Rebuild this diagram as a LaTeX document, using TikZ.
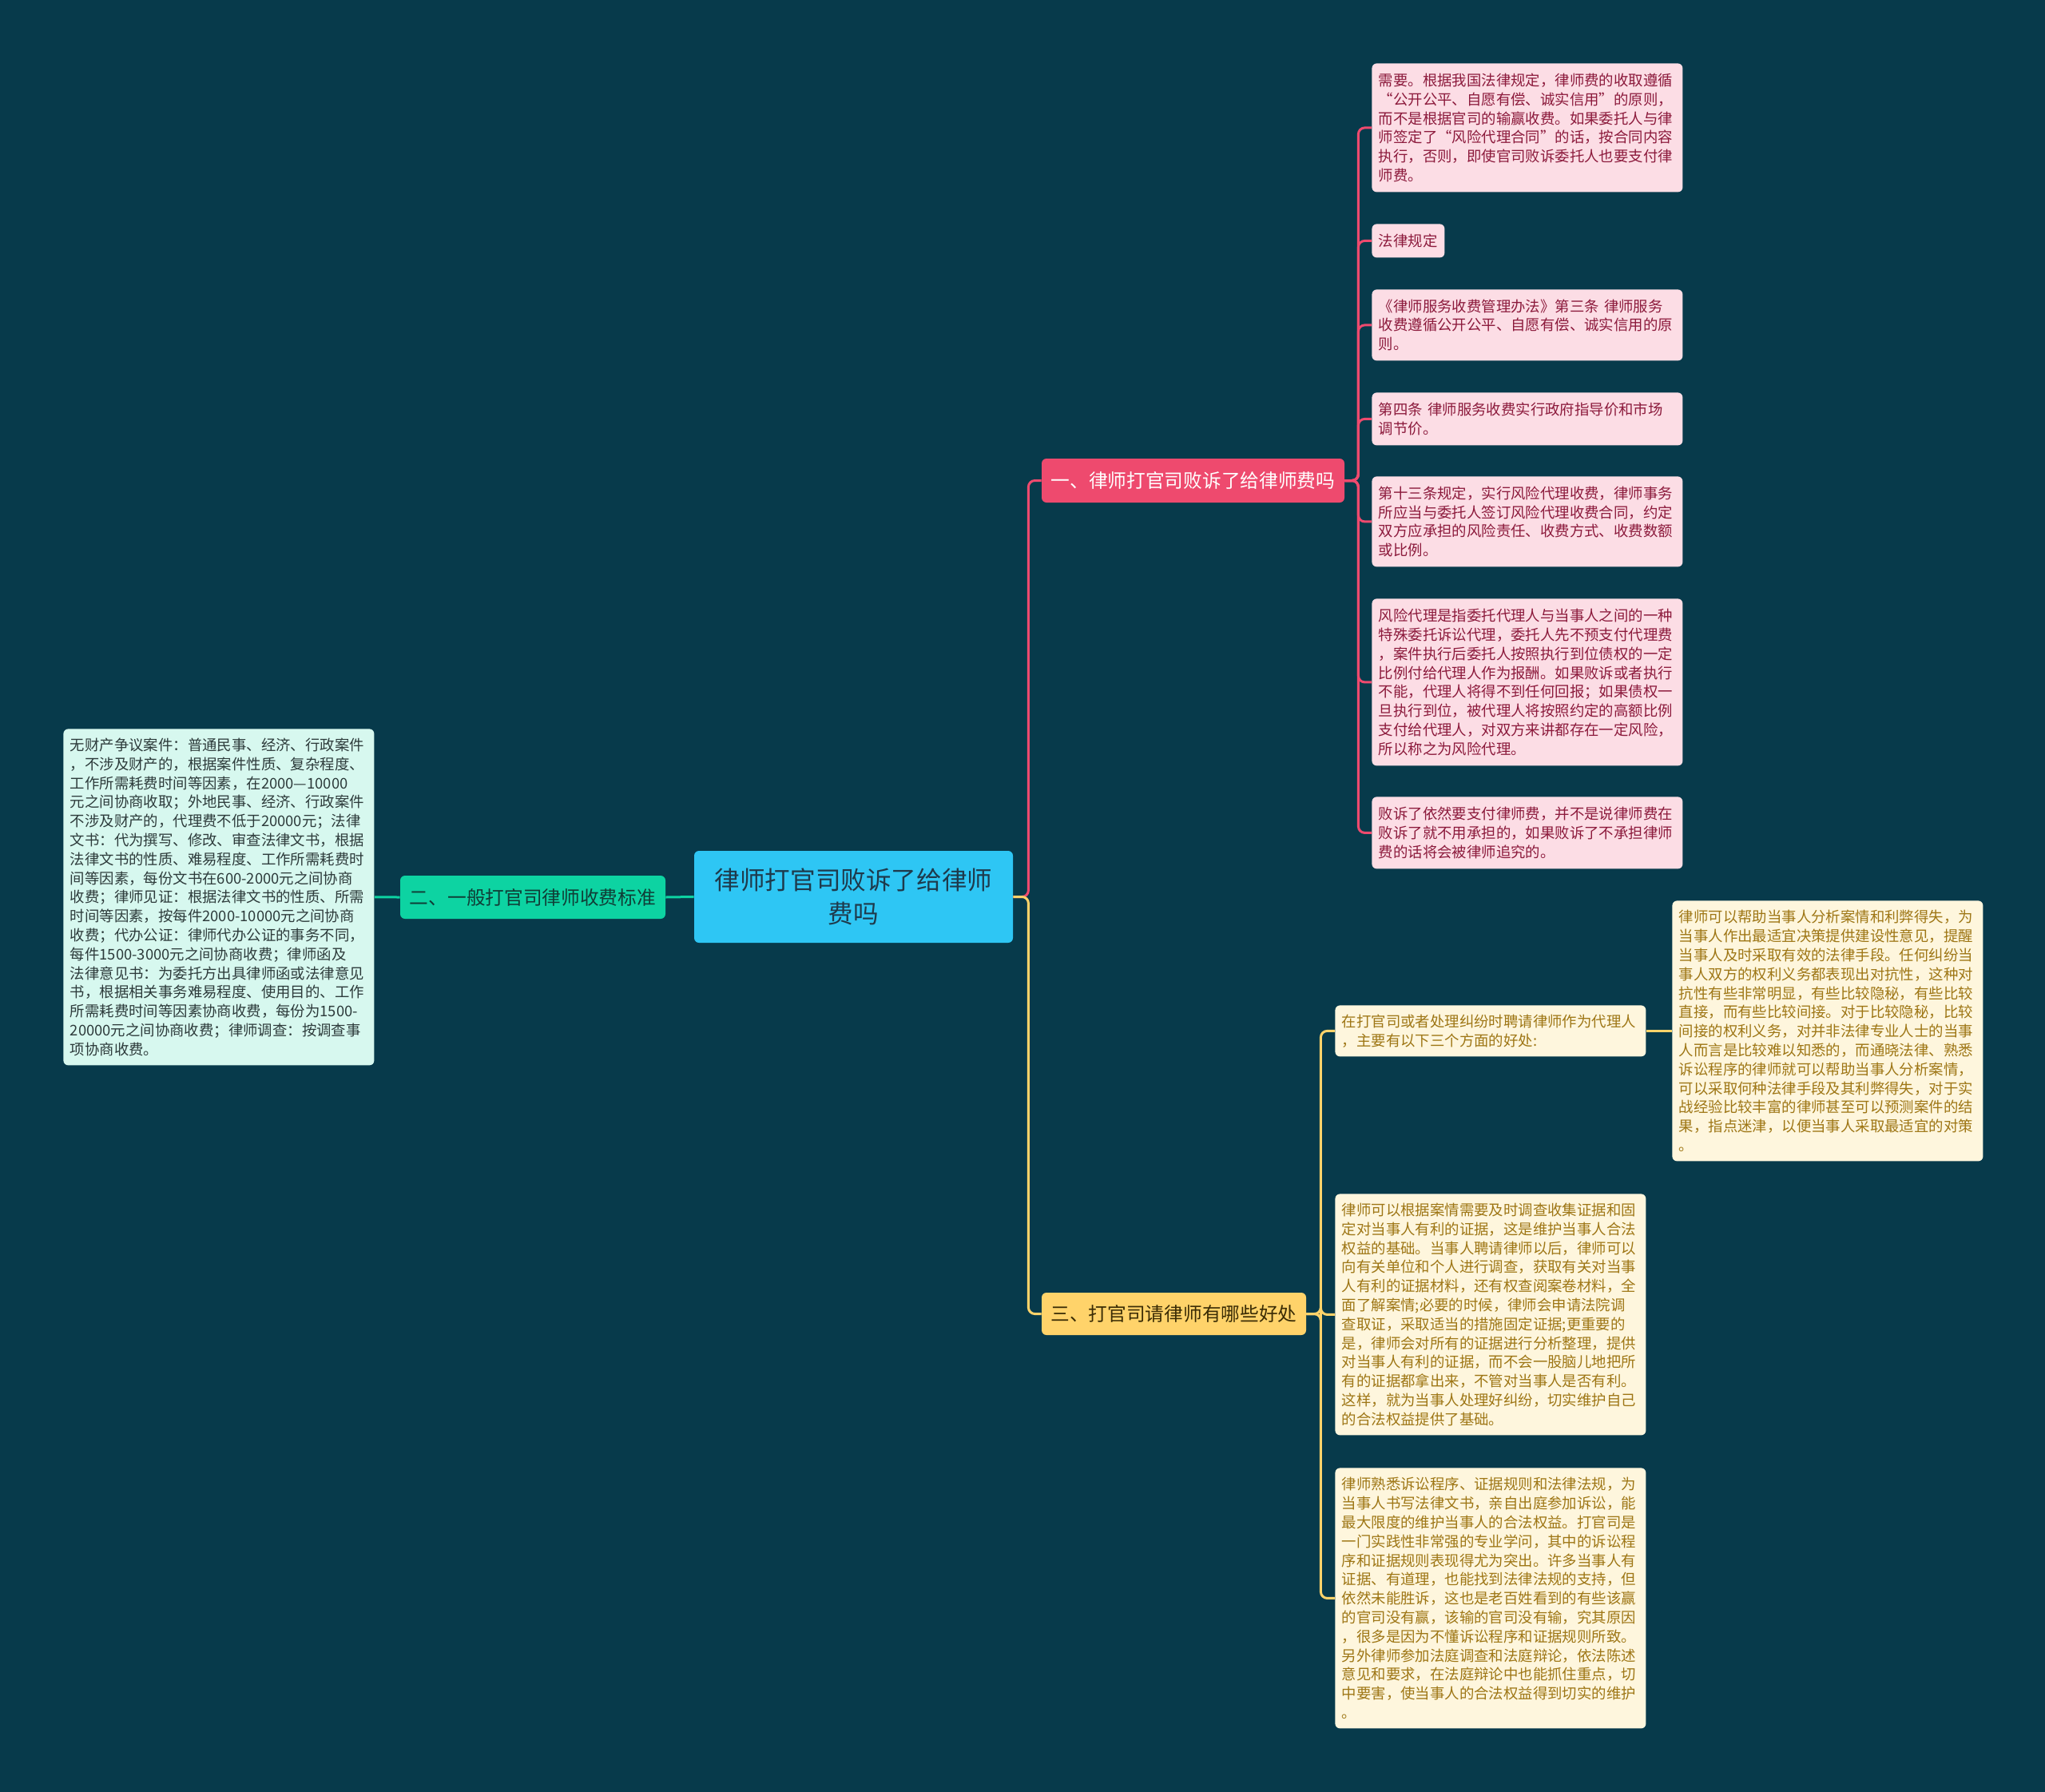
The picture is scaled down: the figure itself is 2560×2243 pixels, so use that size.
\documentclass[tikz,border=0pt]{standalone}
\usepackage{fontspec}
\setmainfont{Noto Sans CJK SC}
\usepackage{tikz}
\usetikzlibrary{positioning}
\definecolor{bgteal}{HTML}{073A4B}
\definecolor{rootblue}{HTML}{2EC6F4}
\definecolor{roottext}{HTML}{1E3A4C}
\definecolor{pinkmain}{HTML}{EE4A6E}
\definecolor{pinksoft}{HTML}{FCDDE5}
\definecolor{pinkink}{HTML}{8C1A3C}
\definecolor{greenmain}{HTML}{0DD3A2}
\definecolor{greensoft}{HTML}{D7F8EF}
\definecolor{greenink}{HTML}{2D3B3B}
\definecolor{greenbrink}{HTML}{103D36}
\definecolor{yellowmain}{HTML}{FFD36A}
\definecolor{yellowsoft}{HTML}{FEF6DD}
\definecolor{yellowink}{HTML}{9E7615}
\definecolor{yellowbrink}{HTML}{3A2C05}
\tikzset{
  rootbox/.style={fill=rootblue, text=roottext, rounded corners=3pt, inner sep=0pt,
    minimum width=199.5pt, minimum height=57.5pt, align=center,
    font=\fontsize{15.8pt}{20.7pt}\selectfont},
  branchbox/.style={rounded corners=3pt, inner sep=0pt, minimum height=27pt,
    font=\fontsize{11.85pt}{14pt}\selectfont},
  leafbox/.style={anchor=north west, rounded corners=3pt, inner xsep=4.25pt, inner ysep=3pt,
    text width=186pt, align=left, font=\fontsize{9.2pt}{11.9pt}\selectfont},
  pinkleaf/.style={leafbox, fill=pinksoft, text=pinkink},
  greenleaf/.style={leafbox, fill=greensoft, text=greenink},
  yellowleaf/.style={leafbox, fill=yellowsoft, text=yellowink},
  linkpink/.style={draw=pinkmain, line width=1.5pt, rounded corners=4pt},
  linkgreen/.style={draw=greenmain, line width=1.5pt},
  linkyellow/.style={draw=yellowmain, line width=1.5pt, rounded corners=4pt}
}

\begin{document}
\begin{tikzpicture}[x=0.5pt, y=-0.5pt]
  \useasboundingbox (0,0) rectangle (2560,2243);
  \fill[bgteal] (0,0) rectangle (2560,2243);

  % centre and main branches
  \node[rootbox] (root) at (1068.5,1122.5) {律师打官司败诉了给律师\\费吗};
  \node[branchbox, fill=pinkmain, text=white, minimum width=189.5pt, minimum height=27.5pt] (brone) at (1493.5,601.5) {一、律师打官司败诉了给律师费吗};
  \node[branchbox, fill=greenmain, text=greenbrink, minimum width=166pt] (brtwo) at (667,1123) {二、一般打官司律师收费标准};
  \node[branchbox, fill=yellowmain, text=yellowbrink, minimum width=165.5pt, minimum height=26.5pt] (brthree) at (1469.5,1644.5) {三、打官司请律师有哪些好处};

  % branch one
  \node[pinkleaf, minimum height=80.5pt] (pone) at (1717,79) {需要。根据我国法律规定，律师费的收取遵循\\“公开公平、自愿有偿、诚实信用”的原则，\\而不是根据官司的输赢收费。如果委托人与律\\师签定了“风险代理合同”的话，按合同内容\\执行，否则，即使官司败诉委托人也要支付律\\师费。};
  \node[pinkleaf, text width=37pt, minimum height=21pt] (ptwo) at (1717,280) {法律规定};
  \node[pinkleaf, minimum height=44.5pt] (pthree) at (1717,362) {《律师服务收费管理办法》第三条 律师服务\\收费遵循公开公平、自愿有偿、诚实信用的原\\则。};
  \node[pinkleaf, minimum height=33pt] (pfour) at (1717,491) {第四条 律师服务收费实行政府指导价和市场\\调节价。};
  \node[pinkleaf, minimum height=56.5pt] (pfive) at (1717,596) {第十三条规定，实行风险代理收费，律师事务\\所应当与委托人签订风险代理收费合同，约定\\双方应承担的风险责任、收费方式、收费数额\\或比例。};
  \node[pinkleaf, minimum height=104.5pt] (psix) at (1717,749) {风险代理是指委托代理人与当事人之间的一种\\特殊委托诉讼代理，委托人先不预支付代理费\\，案件执行后委托人按照执行到位债权的一定\\比例付给代理人作为报酬。如果败诉或者执行\\不能，代理人将得不到任何回报；如果债权一\\旦执行到位，被代理人将按照约定的高额比例\\支付给代理人，对双方来讲都存在一定风险，\\所以称之为风险代理。};
  \node[pinkleaf, minimum height=45pt] (pseven) at (1717,997) {败诉了依然要支付律师费，并不是说律师费在\\败诉了就不用承担的，如果败诉了不承担律师\\费的话将会被律师追究的。};

  % branch two
  \node[greenleaf, minimum height=210.5pt] (gone) at (79,912) {无财产争议案件：普通民事、经济、行政案件\\，不涉及财产的，根据案件性质、复杂程度、\\工作所需耗费时间等因素，在2000—10000\\元之间协商收取；外地民事、经济、行政案件\\不涉及财产的，代理费不低于20000元；法律\\文书：代为撰写、修改、审查法律文书，根据\\法律文书的性质、难易程度、工作所需耗费时\\间等因素，每份文书在600-2000元之间协商\\收费；律师见证：根据法律文书的性质、所需\\时间等因素，按每件2000-10000元之间协商\\收费；代办公证：律师代办公证的事务不同，\\每件1500-3000元之间协商收费；律师函及\\法律意见书：为委托方出具律师函或法律意见\\书，根据相关事务难易程度、使用目的、工作\\所需耗费时间等因素协商收费，每份为1500-\\20000元之间协商收费；律师调查：按调查事\\项协商收费。};

  % branch three
  \node[yellowleaf, minimum height=32pt] (yone) at (1671,1258) {在打官司或者处理纠纷时聘请律师作为代理人\\，主要有以下三个方面的好处:};
  \node[yellowleaf, minimum height=163pt] (yonesub) at (2093,1127) {律师可以帮助当事人分析案情和利弊得失，为\\当事人作出最适宜决策提供建设性意见，提醒\\当事人及时采取有效的法律手段。任何纠纷当\\事人双方的权利义务都表现出对抗性，这种对\\抗性有些非常明显，有些比较隐秘，有些比较\\直接，而有些比较间接。对于比较隐秘，比较\\间接的权利义务，对并非法律专业人士的当事\\人而言是比较难以知悉的，而通晓法律、熟悉\\诉讼程序的律师就可以帮助当事人分析案情，\\可以采取何种法律手段及其利弊得失，对于实\\战经验比较丰富的律师甚至可以预测案件的结\\果，指点迷津，以便当事人采取最适宜的对策\\。};
  \node[yellowleaf, minimum height=151pt] (ytwo) at (1671,1494) {律师可以根据案情需要及时调查收集证据和固\\定对当事人有利的证据，这是维护当事人合法\\权益的基础。当事人聘请律师以后，律师可以\\向有关单位和个人进行调查，获取有关对当事\\人有利的证据材料，还有权查阅案卷材料，全\\面了解案情;必要的时候，律师会申请法院调\\查取证，采取适当的措施固定证据;更重要的\\是，律师会对所有的证据进行分析整理，提供\\对当事人有利的证据，而不会一股脑儿地把所\\有的证据都拿出来，不管对当事人是否有利。\\这样，就为当事人处理好纠纷，切实维护自己\\的合法权益提供了基础。};
  \node[yellowleaf, minimum height=163pt] (ythree) at (1671,1837) {律师熟悉诉讼程序、证据规则和法律法规，为\\当事人书写法律文书，亲自出庭参加诉讼，能\\最大限度的维护当事人的合法权益。打官司是\\一门实践性非常强的专业学问，其中的诉讼程\\序和证据规则表现得尤为突出。许多当事人有\\证据、有道理，也能找到法律法规的支持，但\\依然未能胜诉，这也是老百姓看到的有些该赢\\的官司没有赢，该输的官司没有输，究其原因\\，很多是因为不懂诉讼程序和证据规则所致。\\另外律师参加法庭调查和法庭辩论，依法陈述\\意见和要求，在法庭辩论中也能抓住重点，切\\中要害，使当事人的合法权益得到切实的维护\\。};

  % connectors
  \draw[linkpink] (root.east) -- ++(19,0) |- (brone.west);
  \draw[linkyellow] (root.east) -- ++(19,0) |- (brthree.west);
  \draw[linkgreen] (root.west) -- (brtwo.east);
  \draw[linkgreen] (brtwo.west) -- (gone.east);
  \foreach \leaf in {pone,ptwo,pthree,pfour,pfive,psix,pseven}
    \draw[linkpink] (brone.east) -- ++(17,0) |- (\leaf.west);
  \foreach \leaf in {yone,ytwo,ythree}
    \draw[linkyellow] (brthree.east) -- ++(18,0) |- (\leaf.west);
  \draw[linkyellow] (yone.east) -- (yonesub.west);
\end{tikzpicture}
\end{document}
